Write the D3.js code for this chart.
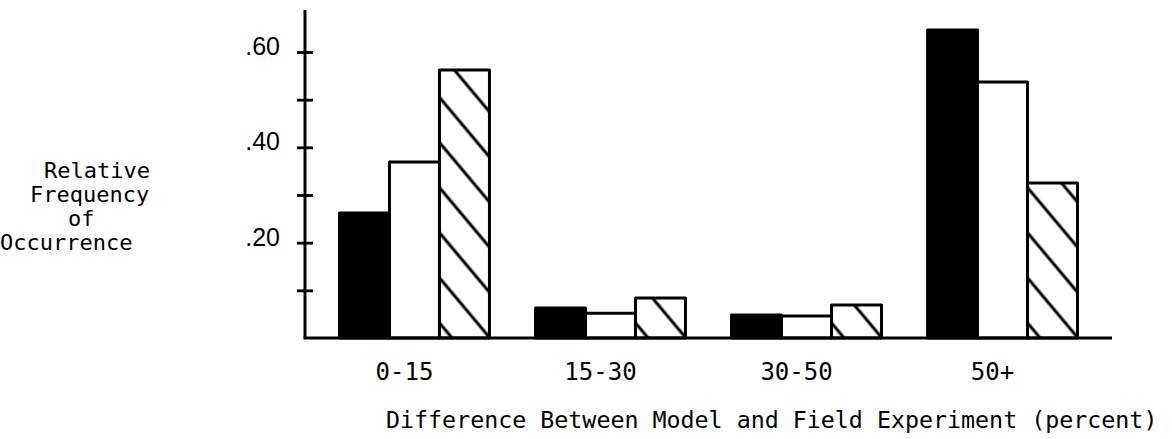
<!DOCTYPE html>
<html>
<head>
<meta charset="utf-8">
<script src="https://cdn.jsdelivr.net/npm/d3@7"></script>
<style>
	body { margin: 0; background: #fff; }
	.tick text { fill: #000; }
	.monoText { font-family: "DejaVu Sans Mono", "Liberation Mono", monospace; fill: #000; }
</style>
</head>
<body>
<script>
//categories along the x axis (percent difference)
var categories = ["0-15", "15-30", "30-50", "50+"];

//relative frequency for each of the three bar types
var solidValues = [0.262, 0.063, 0.048, 0.646];
var openValues = [0.369, 0.052, 0.046, 0.537];
var hatchedValues = [0.562, 0.084, 0.069, 0.325];

var seriesNames = ["solid", "open", "hatched"];

//y axis ticks, only every other one is labelled
var yTicks = [0.1, 0.2, 0.3, 0.4, 0.5, 0.6];
var yTickLabels = [".20", ".40", ".60"];

//y axis title, one line each
var yTitleLines = ["Relative", "Frequency", "of", "Occurrence"];
var xTitle = "Difference Between Model and Field Experiment (percent)";

window.onload = setChart();
function setChart(){

	//svg dimensions
	var width = 1172,
		height = 439;

	var svg = d3.select("body")
		.append("svg")
		.attr("width", width)
		.attr("height", height);

	//frame of the plot
	var left = 305,
		right = 1112,
		bottom = 338,
		top = 10;

	//hatch pattern for third series
	var defs = svg.append("defs");
	var hatch = defs.append("pattern")
		.attr("id", "hatch")
		.attr("patternUnits", "userSpaceOnUse")
		.attr("width", 29)
		.attr("height", 29)
		.attr("patternTransform", "rotate(-40)");
	hatch.append("rect")
		.attr("width", 29)
		.attr("height", 29)
		.attr("fill", "#fff");
	hatch.append("line")
		.attr("x1", 14).attr("x2", 14)
		.attr("y1", 0).attr("y2", 29)
		.attr("stroke", "#000")
		.attr("stroke-width", 3);

	//scales
	var x0 = d3.scaleBand()
		.domain(categories)
		.range([left, right])
		.paddingInner(0.235)
		.paddingOuter(0.176);

	var x1 = d3.scaleBand()
		.domain(seriesNames)
		.range([0, x0.bandwidth()]);

	var y = d3.scaleLinear()
		.domain([0, 0.6])
		.range([bottom, 52]);

	//build rows for the bars
	var rows = categories.map(function(c, i){
		return {
			cat: c,
			vals: [
				{ key: "solid", v: solidValues[i] },
				{ key: "open", v: openValues[i] },
				{ key: "hatched", v: hatchedValues[i] }
			]
		};
	});

	var fills = { solid: "#000", open: "#fff", hatched: "url(#hatch)" };

	//bars
	var groups = svg.selectAll(".grp")
		.data(rows)
		.enter()
		.append("g")
		.attr("class", "grp")
		.attr("transform", function(d){ return "translate(" + x0(d.cat) + ",0)"; });

	groups.selectAll("rect")
		.data(function(d){ return d.vals; })
		.enter()
		.append("rect")
		.attr("x", function(d){ return x1(d.key); })
		.attr("y", function(d){ return y(d.v); })
		.attr("width", x1.bandwidth())
		.attr("height", function(d){ return y(0) - y(d.v); })
		.attr("fill", function(d){ return fills[d.key]; })
		.attr("stroke", "#000")
		.attr("stroke-width", 3)
		.attr("stroke-linejoin", "round");

	//y axis
	var yAxis = d3.axisLeft(y)
		.tickValues(yTicks)
		.tickSizeInner(8)
		.tickSizeOuter(0)
		.tickPadding(17)
		.tickFormat(function(d){
			var s = d3.format(".2f")(d).replace("0.", ".");
			return yTickLabels.indexOf(s) >= 0 ? s : "";
		});

	var yG = svg.append("g")
		.attr("transform", "translate(" + left + ",0)")
		.call(yAxis);
	yG.select(".domain").remove();
	yG.selectAll(".tick line")
		.attr("x1", 8)
		.attr("stroke", "#000")
		.attr("stroke-width", 2.8);
	yG.selectAll(".tick text")
		.attr("font-family", "'Liberation Sans', Arial, sans-serif")
		.attr("font-size", 25)
		.attr("dy", "0.1em");

	//axis lines
	svg.append("line")
		.attr("x1", left).attr("x2", left)
		.attr("y1", top).attr("y2", bottom)
		.attr("stroke", "#000")
		.attr("stroke-width", 3);
	svg.append("line")
		.attr("x1", left - 1.5).attr("x2", right)
		.attr("y1", bottom).attr("y2", bottom)
		.attr("stroke", "#000")
		.attr("stroke-width", 3);

	//x axis labels
	var xAxis = d3.axisBottom(x0)
		.tickSize(0)
		.tickPadding(0);
	var xG = svg.append("g")
		.attr("transform", "translate(0," + bottom + ")")
		.call(xAxis);
	xG.select(".domain").remove();
	xG.selectAll(".tick text")
		.attr("class", "monoText")
		.attr("font-size", 24)
		.attr("y", 42)
		.attr("dx", -10)
		.attr("dy", 0);

	//y title
	var yTitleX = [44, 30, 68, 0];
	svg.selectAll(".yTitle")
		.data(yTitleLines)
		.enter()
		.append("text")
		.attr("class", "yTitle monoText")
		.attr("x", function(d, i){ return yTitleX[i]; })
		.attr("y", function(d, i){ return 178 + i * 24; })
		.attr("font-size", 22)
		.text(function(d){ return d; });

	//x title
	svg.append("text")
		.attr("class", "monoText")
		.attr("x", 386)
		.attr("y", 428)
		.attr("font-size", 23.3)
		.text(xTitle);
};
</script>
</body>
</html>
